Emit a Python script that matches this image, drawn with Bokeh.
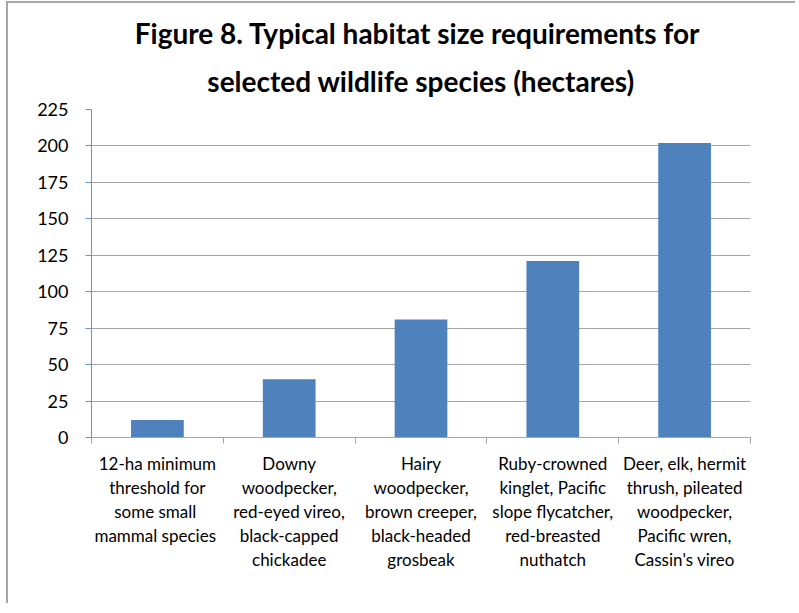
import numpy as np
from bokeh.plotting import figure
from bokeh.models import Range1d, FixedTicker, Title
from bokeh.embed import file_html
from bokeh.resources import INLINE

title_lines = ["Figure 8. Typical habitat  size requirements for",
               "selected wildlife species (hectares)"]
categories = [
    "12-ha minimum\nthreshold for\nsome  small\nmammal  species",
    "Downy\nwoodpecker,\nred-eyed vireo,\nblack-capped\nchickadee",
    "Hairy\nwoodpecker,\nbrown creeper,\nblack-headed\ngrosbeak",
    "Ruby-crowned\nkinglet, Pacific\nslope flycatcher,\nred-breasted\nnuthatch",
    "Deer, elk, hermit\nthrush, pileated\nwoodpecker,\nPacific wren,\nCassin's vireo",
]
hectares = [12, 40, 81, 121, 202]
y_ticks = [0, 25, 50, 75, 100, 125, 150, 175, 200, 225]

n = len(categories)
centers = [i + 0.5 for i in range(n)]
bounds = list(range(n + 1))

FONT = "Lato"
p = figure(output_backend="svg", toolbar_location=None,
           x_range=Range1d(0, n), y_range=Range1d(0, 225),
           min_border_left=83, min_border_right=45, min_border_top=106, min_border_bottom=166,
           frame_width=659, frame_height=328)
p.styles = {"border-top": "2px solid #a6a6a6", "border-left": "2px solid #a6a6a6",
            "margin-top": "1px", "margin-left": "6px"}
p.outline_line_color = None

p.add_layout(Title(text=title_lines[1], align="center", text_font=FONT, text_font_size="28px",
                   text_font_style="bold", text_color="#000000", standoff=24, offset=0), "above")
p.add_layout(Title(text=title_lines[0], align="center", text_font=FONT, text_font_size="28px",
                   text_font_style="bold", text_color="#000000", standoff=0, offset=0), "above")
p.title.visible = False

p.vbar(x=centers, top=hectares, width=0.4, bottom=0, fill_color="#4F81BD", line_color=None)

# y axis
p.yaxis.ticker = FixedTicker(ticks=y_ticks)
p.yaxis.axis_line_color = "#6a93c9"
p.yaxis.major_tick_line_color = "#6a93c9"
p.yaxis.major_tick_in = 0
p.yaxis.major_tick_out = 6
p.yaxis.minor_tick_line_color = None
p.yaxis.major_label_text_font = FONT
p.yaxis.major_label_text_font_size = "18px"
p.yaxis.major_label_text_color = "#000000"
p.yaxis.major_label_standoff = 17

# x axis
p.xaxis.ticker = FixedTicker(ticks=centers, minor_ticks=bounds)
p.xaxis.major_label_overrides = {c: lab for c, lab in zip(centers, categories)}
p.xaxis.axis_line_color = "#a6a6a6"
p.xaxis.major_tick_line_color = None
p.xaxis.minor_tick_line_color = "#a6a6a6"
p.xaxis.minor_tick_in = 0
p.xaxis.minor_tick_out = 6
p.xaxis.major_label_text_font = FONT
p.xaxis.major_label_text_font_size = "17px"
p.xaxis.major_label_text_color = "#000000"
p.xaxis.major_label_text_line_height = 1.15
p.xaxis.major_label_standoff = 9

p.xgrid.visible = False
p.ygrid.ticker = FixedTicker(ticks=y_ticks)
p.ygrid.grid_line_color = "#a6a6a6"
p.ygrid.grid_line_width = 1

open("out.html", "w").write(file_html(p, INLINE))
